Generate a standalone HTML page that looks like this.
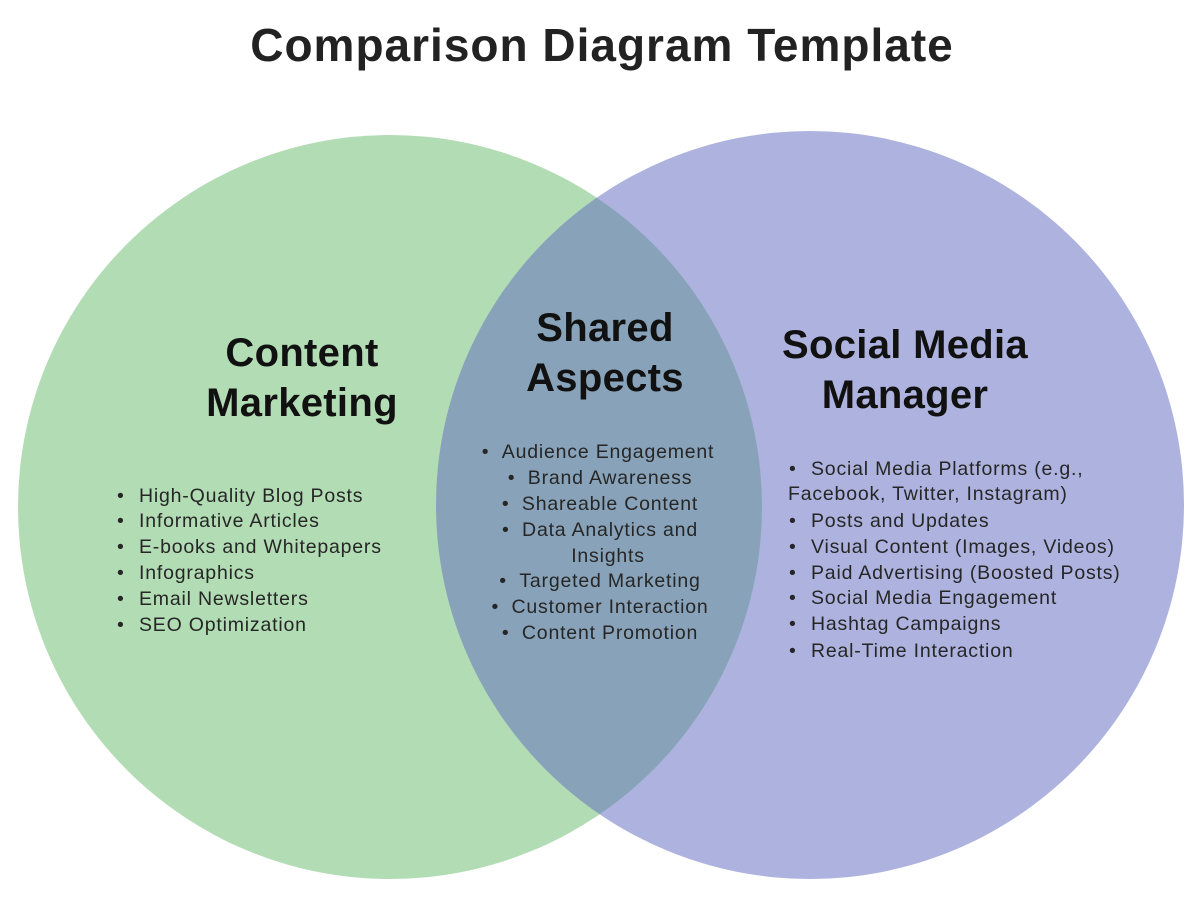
<!DOCTYPE html>
<html><head><meta charset="utf-8"><style>
html,body{margin:0;padding:0;background:#fff;width:1200px;height:899px;overflow:hidden}
svg{display:block;font-family:"Liberation Sans",Arial,sans-serif}
.t{font-size:19.5px;fill:#262626;letter-spacing:0.8px}
.h{font-size:40px;font-weight:bold;fill:#111;letter-spacing:0.3px}
</style></head><body>
<svg width="1200" height="899" viewBox="0 0 1200 899">
<defs><clipPath id="c"><circle cx="390" cy="507" r="372"/></clipPath></defs>
<text x="602" y="45" text-anchor="middle" dominant-baseline="central" style="font-size:46px;font-weight:bold;fill:#222;letter-spacing:1px">Comparison Diagram Template</text>
<circle cx="390" cy="507" r="372" fill="#b2dcb4"/>
<circle cx="810" cy="505" r="374" fill="#adb3de"/>
<circle cx="810" cy="505" r="374" fill="#88a3b9" clip-path="url(#c)"/>
<g dominant-baseline="central" text-anchor="middle" class="h">
<text x="302" y="353" class="h">Content</text>
<text x="302" y="403" class="h">Marketing</text>
<text x="605" y="328" class="h">Shared</text>
<text x="605" y="378" class="h">Aspects</text>
<text x="905" y="345" class="h">Social Media</text>
<text x="905" y="395" class="h">Manager</text>
</g>
<g class="t" dominant-baseline="central">
<text x="117" y="496">•</text><text x="139" y="496">High-Quality Blog Posts</text>
<text x="117" y="521">•</text><text x="139" y="521">Informative Articles</text>
<text x="117" y="547">•</text><text x="139" y="547">E-books and Whitepapers</text>
<text x="117" y="573">•</text><text x="139" y="573">Infographics</text>
<text x="117" y="599">•</text><text x="139" y="599">Email Newsletters</text>
<text x="117" y="625">•</text><text x="139" y="625">SEO Optimization</text>
</g>
<g class="t" dominant-baseline="central" text-anchor="middle">
<text x="598" y="452">•&#160;&#160;Audience Engagement</text>
<text x="600" y="478">•&#160;&#160;Brand Awareness</text>
<text x="600" y="504">•&#160;&#160;Shareable Content</text>
<text x="600" y="530">•&#160;&#160;Data Analytics and</text>
<text x="608" y="556">Insights</text>
<text x="600" y="581">•&#160;&#160;Targeted Marketing</text>
<text x="600" y="607">•&#160;&#160;Customer Interaction</text>
<text x="600" y="633">•&#160;&#160;Content Promotion</text>
</g>
<g class="t" dominant-baseline="central">
<text x="789" y="469">•</text><text x="811" y="469">Social Media Platforms (e.g.,</text>
<text x="788" y="494">Facebook, Twitter, Instagram)</text>
<text x="789" y="521">•</text><text x="811" y="521">Posts and Updates</text>
<text x="789" y="547">•</text><text x="811" y="547">Visual Content (Images, Videos)</text>
<text x="789" y="573">•</text><text x="811" y="573">Paid Advertising (Boosted Posts)</text>
<text x="789" y="598">•</text><text x="811" y="598">Social Media Engagement</text>
<text x="789" y="624">•</text><text x="811" y="624">Hashtag Campaigns</text>
<text x="789" y="651">•</text><text x="811" y="651">Real-Time Interaction</text>
</g>
</svg>
</body></html>
